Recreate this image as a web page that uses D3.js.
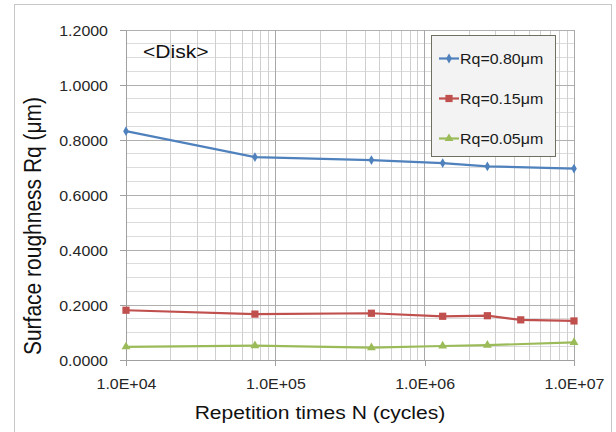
<!DOCTYPE html>
<html lang="en">
<head>
<meta charset="utf-8">
<style>
  body { margin: 0; background: white; }
  svg { font-family: 'Liberation Sans', Arial, sans-serif; display: block; }
  .grid line { shape-rendering: crispEdges; }
  .axis path, .axis line { stroke: #a0a0a0; shape-rendering: crispEdges; }
  .axis text { fill: #262626; font-size: 14px; }
  .series path.line { fill: none; stroke-width: 2.2px; }
</style>
</head>
<body>
<svg width="616" height="432"></svg>
<script src="https://d3js.org/d3.v7.min.js"></script>
<script>
// data
const cycles    = [1e4, 7.3e4, 4.4e5, 1.32e6, 2.63e6, 1e7];
const cyclesRed = [1e4, 7.3e4, 4.4e5, 1.32e6, 2.63e6, 4.4e6, 1e7];
const rq080 = [0.832, 0.738, 0.727, 0.716, 0.704, 0.696];
const rq015 = [0.181, 0.167, 0.170, 0.159, 0.161, 0.146, 0.142];
const rq005 = [0.048, 0.052, 0.045, 0.051, 0.054, 0.064];
const seriesNames = ["Rq=0.80μm", "Rq=0.15μm", "Rq=0.05μm"];
const yTicks = [0, 0.2, 0.4, 0.6, 0.8, 1.0, 1.2];
const xTicks = [1e4, 1e5, 1e6, 1e7];
const xTickLabels = ["1.0E+04", "1.0E+05", "1.0E+06", "1.0E+07"];

const stretch = 1.14   // text in the source is a bit wide
const plot = { left: 126, right: 574, top: 30, bottom: 360 }

const x = d3.scaleLog().domain([1e4, 1e7]).range([plot.left, plot.right])
const y = d3.scaleLinear().domain([0, 1.2]).range([plot.bottom, plot.top])

const svg = d3.select("svg")

// outer chart frame
svg.append("rect")
  .attr("x", 14.5).attr("y", 4.5)
  .attr("width", 597).attr("height", 440)
  .attr("fill", "white").attr("stroke", "#c6c6c6")

// gridlines
const grid = svg.append("g").attr("class", "grid")
grid.selectAll("line.hminor")
  .data(d3.range(0, 24).map(i => i * 0.05))
  .join("line")
  .attr("x1", plot.left).attr("x2", plot.right)
  .attr("y1", d => y(d)).attr("y2", d => y(d))
  .attr("stroke", "#dcdcdc")
grid.selectAll("line.vminor")
  .data(x.ticks())
  .join("line")
  .attr("x1", d => x(d)).attr("x2", d => x(d))
  .attr("y1", plot.top).attr("y2", plot.bottom)
  .attr("stroke", "#cfcfcf")
grid.selectAll("line.hmajor")
  .data(yTicks)
  .join("line")
  .attr("x1", plot.left).attr("x2", plot.right)
  .attr("y1", d => y(d)).attr("y2", d => y(d))
  .attr("stroke", "#b0b0b0")
grid.selectAll("line.vmajor")
  .data(xTicks)
  .join("line")
  .attr("x1", d => x(d)).attr("x2", d => x(d))
  .attr("y1", plot.top).attr("y2", plot.bottom)
  .attr("stroke", "#a8a8a8")

// axes
const yAxis = d3.axisLeft(y).tickValues(yTicks).tickSize(6).tickSizeOuter(0)
  .tickFormat(d3.format(".4f"))
const xAxis = d3.axisBottom(x).tickValues(xTicks).tickSize(6).tickSizeOuter(0)
  .tickFormat((d, i) => xTickLabels[i])

const gy = svg.append("g").attr("class", "axis y")
  .attr("transform", "translate(" + plot.left + ",0)")
  .call(yAxis)
gy.selectAll("text")
  .attr("x", 0).attr("dy", null).attr("y", 0)
  .attr("transform", "translate(-18,5) scale(" + stretch + ",1)")

const gx = svg.append("g").attr("class", "axis x")
  .attr("transform", "translate(0," + plot.bottom + ")")
  .call(xAxis)
gx.selectAll("text")
  .attr("y", 0).attr("dy", null)
  .attr("transform", "translate(0,29) scale(" + stretch + ",1)")

// series
const series = [
  { name: seriesNames[0], xs: cycles,    ys: rq080, color: "#4f81bd", symbol: d3.symbolDiamond,  size: 28 },
  { name: seriesNames[1], xs: cyclesRed, ys: rq015, color: "#c0504d", symbol: d3.symbolSquare,   size: 52 },
  { name: seriesNames[2], xs: cycles,    ys: rq005, color: "#9bbb59", symbol: d3.symbolTriangle, size: 34 }
]

const line = d3.line()
  .x(d => x(d[0]))
  .y(d => y(d[1]))

series.forEach(function (s) {
  const pts = s.xs.map((v, i) => [v, s.ys[i]])
  const g = svg.append("g").attr("class", "series")
  g.append("path").attr("class", "line")
    .attr("d", line(pts))
    .attr("stroke", s.color)
  g.selectAll("path.mark")
    .data(pts)
    .join("path")
    .attr("class", "mark")
    .attr("d", d3.symbol().type(s.symbol).size(s.size))
    .attr("transform", d => "translate(" + x(d[0]) + "," + y(d[1]) + ")")
    .attr("fill", s.color)
})

// <Disk> label
svg.append("text")
  .attr("transform", "translate(143,58) scale(" + stretch + ",1)")
  .attr("font-size", 18.5)
  .attr("fill", "#111")
  .text("<Disk>")

// legend
const legend = svg.append("g").attr("transform", "translate(431,35)")
legend.append("rect")
  .attr("x", 0.5).attr("y", 0.5)
  .attr("width", 124).attr("height", 121)
  .attr("fill", "#f2f3f2").attr("stroke", "#707060")
series.forEach(function (s, i) {
  const ly = 23.5 + i * 40
  legend.append("line")
    .attr("x1", 8).attr("x2", 28).attr("y1", ly).attr("y2", ly)
    .attr("stroke", s.color).attr("stroke-width", 2.2)
  legend.append("path")
    .attr("d", d3.symbol().type(s.symbol).size(s.size)())
    .attr("transform", "translate(18," + ly + ")")
    .attr("fill", s.color)
  legend.append("text")
    .attr("transform", "translate(29," + (ly + 5.5) + ") scale(" + stretch + ",1)")
    .attr("font-size", 14)
    .attr("fill", "#1a1a1a")
    .text(s.name)
})

// axis titles
svg.append("text")
  .attr("transform", "translate(320,419) scale(" + stretch + ",1)")
  .attr("text-anchor", "middle")
  .attr("font-size", 18.5)
  .attr("fill", "#111")
  .text("Repetition times N (cycles)")

svg.append("text")
  .attr("transform", "translate(41,226) scale(" + stretch + ",1) rotate(-90)")
  .attr("text-anchor", "middle")
  .attr("font-size", 21)
  .attr("fill", "#111")
  .text("Surface roughness Rq (μm)")
</script>
</body>
</html>
